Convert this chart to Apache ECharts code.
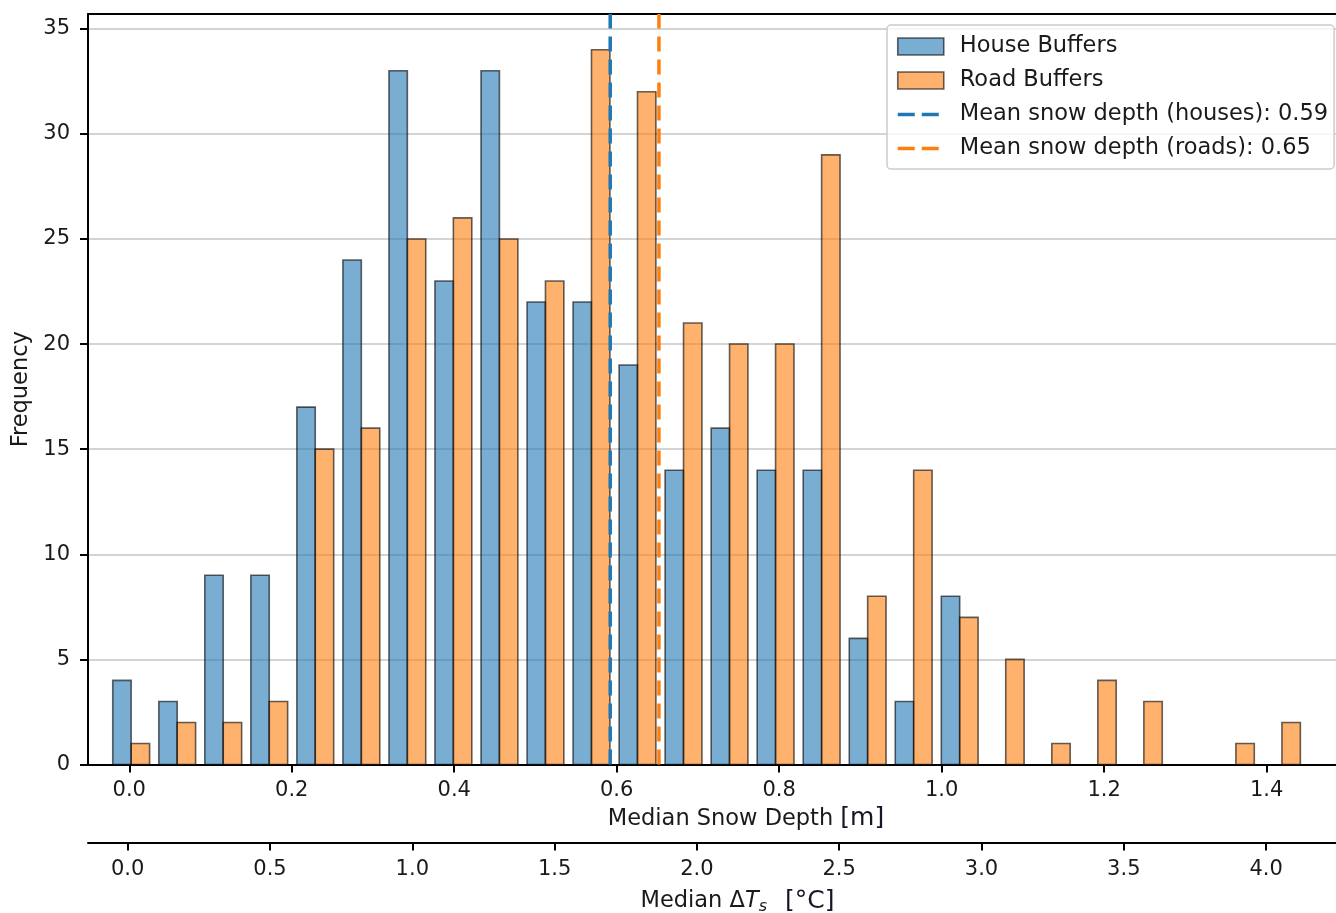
<!DOCTYPE html>
<html><head><meta charset="utf-8">
<script src="https://cdn.jsdelivr.net/npm/echarts@6/dist/echarts.min.js"></script>
<style>html,body{margin:0;padding:0;background:#fff}#c{width:1336px;height:913px}</style>
</head><body><div id="c"></div>
<script>
// ---- data ----
const binEdges = [-0.0260, 0.0307, 0.0873, 0.1440, 0.2006, 0.2573, 0.3140, 0.3706, 0.4273,
  0.4840, 0.5406, 0.5973, 0.6539, 0.7106, 0.7672, 0.8239, 0.8806, 0.9372, 0.9939,
  1.0505, 1.1072, 1.1639, 1.2205, 1.2772, 1.3338, 1.3905, 1.4472];
const houseCounts = [4, 3, 9, 9, 17, 24, 33, 23, 33, 22, 22, 19, 14, 16, 14, 14, 6, 3, 8, 0, 0, 0, 0, 0, 0, 0];
const roadCounts  = [1, 2, 2, 3, 15, 16, 25, 26, 25, 23, 34, 32, 21, 20, 20, 29, 8, 14, 7, 5, 1, 4, 3, 0, 1, 2];
const meanHouse = 0.592;
const meanRoad = 0.652;
const depthTicks = [0.0, 0.2, 0.4, 0.6, 0.8, 1.0, 1.2, 1.4];
const dtTicks = [0.0, 0.5, 1.0, 1.5, 2.0, 2.5, 3.0, 3.5, 4.0];
const freqTicks = [0, 5, 10, 15, 20, 25, 30, 35];

const seriesNames = ['House Buffers', 'Road Buffers'];
const meanHouseName = 'Mean snow depth (houses): ' + meanHouse.toFixed(2);
const meanRoadName = 'Mean snow depth (roads): ' + meanRoad.toFixed(2);

// ---- styling ----
const FONT = 'DejaVu Sans';
const TXT = '#1a1a1a';
const UNIT = '#161628';
const FILLS = ['rgba(31,119,180,0.6)', 'rgba(255,127,14,0.6)'];
const LINES = ['#1f77b4', '#ff7f0e'];
const EDGE = 'rgba(0,0,0,0.6)';
const X_MIN = -0.0508, X_MAX = 1.4854;
const T_MIN = -0.1395, T_MAX = 4.2456;
const Y_MAX = 35.7;
const TICK_FS = 21, NAME_FS = 22.5;

function histData(counts) {
  return counts.map((c, i) => [binEdges[i], binEdges[i + 1], c]);
}
function makeRender(k) {
  return function (params, api) {
    const l = api.value(0), r = api.value(1), v = api.value(2);
    if (!v) return null;
    const w = r - l;
    const x0 = l + w * (0.1 + 0.4 * k);
    const x1 = x0 + 0.4 * w;
    const p0 = api.coord([x0, v]);
    const p1 = api.coord([x1, 0]);
    return {
      type: 'rect',
      shape: { x: p0[0], y: p0[1], width: p1[0] - p0[0], height: p1[1] - p0[1] },
      style: { fill: FILLS[k], stroke: EDGE, lineWidth: 1.6 }
    };
  };
}

const chart = echarts.init(document.getElementById('c'), null, { renderer: 'canvas' });
const axisLineStyle = { color: '#000', width: 2 };
chart.setOption({
  animation: false,
  backgroundColor: '#fff',
  textStyle: { fontFamily: FONT },
  grid: { left: 88, right: 0, top: 14, bottom: 148.5, containLabel: false, outerBoundsMode: 'none' },
  xAxis: [
    {
      type: 'value', position: 'bottom', min: X_MIN, max: X_MAX,
      axisLine: { show: true, onZero: false, lineStyle: axisLineStyle },
      axisTick: { show: true, length: 8, lineStyle: axisLineStyle, customValues: depthTicks },
      axisLabel: { customValues: depthTicks, formatter: v => v.toFixed(1), margin: 16,
        fontSize: TICK_FS, color: TXT, fontFamily: FONT },
      splitLine: { show: false },
      name: 'Median Snow Depth {u|[m]}', nameLocation: 'middle', nameGap: 40,
      nameTextStyle: { fontSize: NAME_FS, color: TXT, fontFamily: FONT, padding: [0, 0, 0, 68],
        rich: { u: { fontSize: 25, color: UNIT, fontFamily: FONT } } }
    },
    {
      type: 'value', position: 'bottom', offset: 78, min: T_MIN, max: T_MAX,
      axisLine: { show: true, onZero: false, lineStyle: axisLineStyle },
      axisTick: { show: true, length: 8, lineStyle: axisLineStyle, customValues: dtTicks },
      axisLabel: { customValues: dtTicks, formatter: v => v.toFixed(1), margin: 17,
        fontSize: TICK_FS, color: TXT, fontFamily: FONT },
      splitLine: { show: false },
      name: 'Median Δ{it|T}{sub|s}{u|[°C]}', nameLocation: 'middle', nameGap: 45,
      nameTextStyle: { fontSize: NAME_FS, color: TXT, fontFamily: FONT, padding: [0, 0, 0, 51],
        rich: {
          it: { fontSize: NAME_FS, fontStyle: 'italic', color: TXT, fontFamily: FONT },
          sub: { fontSize: 16, fontStyle: 'italic', color: TXT, fontFamily: FONT, padding: [11, 0, 0, 0] },
          u: { fontSize: 25, color: UNIT, fontFamily: FONT, padding: [0, 0, 0, 18] }
        } }
    },
    {
      type: 'value', position: 'top', min: X_MIN, max: X_MAX,
      axisLine: { show: true, onZero: false, lineStyle: axisLineStyle },
      axisTick: { show: false }, axisLabel: { show: false }, splitLine: { show: false }
    }
  ],
  yAxis: {
    type: 'value', min: 0, max: Y_MAX, interval: 5, position: 'left',
    axisLine: { show: true, onZero: false, lineStyle: axisLineStyle },
    axisTick: { show: true, length: 8, lineStyle: axisLineStyle, customValues: freqTicks },
    axisLabel: { customValues: freqTicks, margin: 18, fontSize: TICK_FS, color: TXT, fontFamily: FONT },
    splitLine: { show: true, lineStyle: { color: '#c6c6c6', width: 1.5 } },
    name: 'Frequency', nameLocation: 'middle', nameRotate: 90, nameGap: 54,
    nameTextStyle: { fontSize: NAME_FS, color: TXT, fontFamily: FONT }
  },
  legend: {
    orient: 'vertical', left: 887, top: 25, padding: [10, 6, 9, 9],
    itemWidth: 46, itemHeight: 17, itemGap: 11, selectedMode: false,
    backgroundColor: 'rgba(255,255,255,0.8)', borderColor: '#cccccc', borderWidth: 1.5, borderRadius: 4,
    textStyle: { fontSize: NAME_FS, lineHeight: 22, color: TXT, fontFamily: FONT, padding: [0, 0, 0, 11] },
    data: [
      { name: seriesNames[0], icon: 'rect', itemStyle: { color: FILLS[0], borderColor: EDGE, borderWidth: 1.6 } },
      { name: seriesNames[1], icon: 'rect', itemStyle: { color: FILLS[1], borderColor: EDGE, borderWidth: 1.6 } },
      { name: meanHouseName, itemStyle: { opacity: 0, color: 'rgba(0,0,0,0)', borderWidth: 0 },
        lineStyle: { color: LINES[0], width: 3.5, type: [17, 7] } },
      { name: meanRoadName, itemStyle: { opacity: 0, color: 'rgba(0,0,0,0)', borderWidth: 0 },
        lineStyle: { color: LINES[1], width: 3.5, type: [17, 7] } }
    ]
  },
  series: [
    { name: seriesNames[0], type: 'custom', xAxisIndex: 0, yAxisIndex: 0, renderItem: makeRender(0),
      data: histData(houseCounts), encode: { x: [0, 1], y: 2 }, itemStyle: { color: FILLS[0] }, z: 2 },
    { name: seriesNames[1], type: 'custom', xAxisIndex: 0, yAxisIndex: 0, renderItem: makeRender(1),
      data: histData(roadCounts), encode: { x: [0, 1], y: 2 }, itemStyle: { color: FILLS[1] }, z: 2 },
    { name: meanHouseName, type: 'line', xAxisIndex: 0, yAxisIndex: 0, symbol: 'none', silent: true,
      data: [[meanHouse, 0], [meanHouse, Y_MAX]], z: 5,
      lineStyle: { color: LINES[0], width: 3.5, type: [15, 8] }, itemStyle: { color: LINES[0] } },
    { name: meanRoadName, type: 'line', xAxisIndex: 0, yAxisIndex: 0, symbol: 'none', silent: true,
      data: [[meanRoad, 0], [meanRoad, Y_MAX]], z: 5,
      lineStyle: { color: LINES[1], width: 3.5, type: [15, 8] }, itemStyle: { color: LINES[1] } }
  ]
});
</script></body></html>
